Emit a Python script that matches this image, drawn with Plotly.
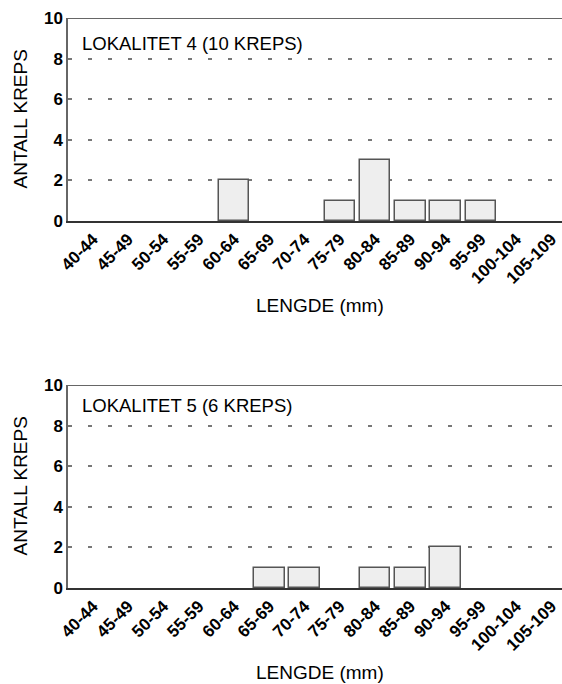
import plotly.graph_objects as go
from plotly.subplots import make_subplots

categories = ["40-44", "45-49", "50-54", "55-59", "60-64", "65-69", "70-74",
              "75-79", "80-84", "85-89", "90-94", "95-99", "100-104", "105-109"]
lok4_counts = [0, 0, 0, 0, 2, 0, 0, 1, 3, 1, 1, 1, 0, 0]
lok5_counts = [0, 0, 0, 0, 0, 1, 1, 0, 1, 1, 2, 0, 0, 0]
y_ticks = [0, 2, 4, 6, 8, 10]
panel_titles = ["LOKALITET 4 (10 KREPS)", "LOKALITET 5 (6 KREPS)"]
x_title = "LENGDE (mm)"
y_title = "ANTALL KREPS"

FONT = "Liberation Sans, Arial, Helvetica, sans-serif"
W, H = 562, 684
ML, MR, MT, MB = 68, 0, 18, 96
PH = H - MT - MB
PW = W - ML - MR

def py(p):
    return (H - MB - p) / PH

def px(p):
    return (p - ML) / PW

fig = make_subplots(rows=2, cols=1)
for i, counts in enumerate([lok4_counts, lok5_counts]):
    fig.add_trace(go.Bar(
        x=list(range(len(categories))), y=[v if v else None for v in counts], width=0.86,
        marker=dict(color="#eeeeee", line=dict(color="#555555", width=1.5)),
        showlegend=False, hoverinfo="skip"), row=i + 1, col=1)

domains = [[py(221), 1.0], [0.0, py(385)]]
for i in range(2):
    xa = "xaxis" if i == 0 else "xaxis2"
    ya = "yaxis" if i == 0 else "yaxis2"
    fig.layout[xa].update(
        domain=[0, 1], range=[-0.71, 13.3],
        tickmode="array", tickvals=list(range(len(categories))), ticktext=categories,
        tickangle=-45, showline=True, linecolor="#333333", linewidth=1.5,
        showgrid=False, zeroline=False, ticks="",
        tickfont=dict(family=FONT, size=17, color="black", weight="bold"))
    fig.layout[ya].update(
        domain=domains[i], range=[0, 10],
        tickmode="array", tickvals=y_ticks,
        showline=True, linecolor="#666666", linewidth=1.5,
        showgrid=True, gridcolor="#777777", gridwidth=1.5, griddash="4px,16px",
        zeroline=False, ticks="",
        tickfont=dict(family=FONT, size=17, color="black", weight="bold"))
    yref = "y" if i == 0 else "y2"
    fig.add_shape(type="line", xref="paper", yref=yref, x0=0, x1=1, y0=10, y1=10,
                  line=dict(color="#333333", width=1.5))

title_y = [py(43), py(405)]
xtitle_y = [py(305), py(672)]
ytitle_y = [py(119.5), py(486.5)]
for i in range(2):
    fig.add_annotation(text=panel_titles[i], xref="paper", yref="paper",
                       x=px(80), y=title_y[i], xanchor="left", yanchor="middle",
                       showarrow=False, font=dict(family=FONT, size=18.5, color="black"))
    fig.add_annotation(text=x_title, xref="paper", yref="paper",
                       x=px(320), y=xtitle_y[i], xanchor="center", yanchor="middle",
                       showarrow=False, font=dict(family=FONT, size=19, color="black"))
    fig.add_annotation(text=y_title, xref="paper", yref="paper", textangle=-90,
                       x=px(20), y=ytitle_y[i], xanchor="center", yanchor="middle",
                       showarrow=False, font=dict(family=FONT, size=19, color="black"))

fig.update_layout(width=W, height=H, margin=dict(l=ML, r=MR, t=MT, b=MB),
                  plot_bgcolor="white", paper_bgcolor="white", bargap=0)

fig.write_html("out.html", config={"displayModeBar": False},
               post_script="document.body.style.margin='0';document.body.style.overflow='hidden';")
